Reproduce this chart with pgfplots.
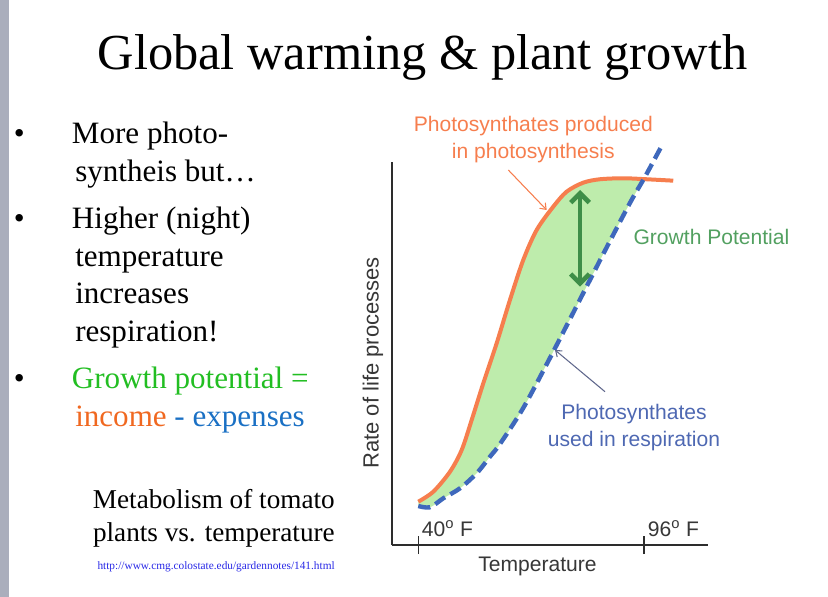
\documentclass[border=0pt]{standalone}
\usepackage{pgfplots}
\pgfplotsset{compat=1.18}
\usepackage{pgfplotstable}
\usepgfplotslibrary{fillbetween}
\usetikzlibrary{arrows.meta}
\usepackage{fontspec}
\setmainfont{Liberation Serif}
\newfontfamily\arial{Liberation Sans}
\definecolor{barcol}{RGB}{170,174,188}
\definecolor{orng}{RGB}{246,126,78}
\definecolor{bluedash}{RGB}{62,104,188}
\definecolor{fillg}{RGB}{190,236,172}
\definecolor{darkg}{RGB}{62,142,72}
\definecolor{gtext}{RGB}{82,160,96}
\definecolor{btext}{RGB}{78,104,178}
\definecolor{ptr}{RGB}{96,104,140}
\definecolor{greenbul}{RGB}{34,190,34}
\definecolor{incor}{RGB}{240,104,32}
\definecolor{expb}{RGB}{26,112,196}
\definecolor{urlb}{RGB}{40,40,230}
\definecolor{axgray}{RGB}{45,45,45}
\definecolor{lblgray}{RGB}{55,55,55}
\pagecolor{white}
\newcommand{\fs}[1]{\fontsize{#1bp}{#1bp}\selectfont}

\pgfplotstableread{
x y
40.00 11.30
43.72 13.91
47.87 19.12
50.77 24.78
53.25 32.61
56.13 42.19
59.45 52.62
62.75 63.92
66.05 74.35
69.38 82.18
73.50 88.26
76.82 92.17
80.94 94.52
85.09 95.41
90.87 95.67
96.67 95.41
103.28 95.04
}\photo

\pgfplotstableread{
x y
40.00 10.17
42.90 9.84
46.20 12.18
50.35 14.79
54.49 18.71
57.79 23.04
60.27 26.35
66.05 35.74
72.68 48.79
79.31 62.35
85.91 75.92
92.53 89.22
96.25 96.01
100.40 104.10
}\resp

\begin{document}
\begin{tikzpicture}[every node/.style={inner sep=0pt}]
\begin{scope}[x=0.75bp,y=0.75bp]
\fill[barcol] (0,0) rectangle (9,597);

% title
\node[anchor=base,font=\fs{37.8}] at (422.5,527) {Global warming \& plant growth};

% bullets
\begin{scope}[font=\fs{23.3}]
\node[anchor=base] at (19.3,453.7) {•};
\node[anchor=base] at (19.3,368.7) {•};
\node[anchor=base] at (19.3,208.7) {•};
\node[anchor=base west] at (71.7,453.7) {More photo-};
\node[anchor=base west] at (75,415.3) {syntheis but…};
\node[anchor=base west] at (71.7,368.7) {Higher (night)};
\node[anchor=base west] at (75,330.3) {temperature};
\node[anchor=base west] at (75,293.7) {increases};
\node[anchor=base west] at (75,255.3) {respiration!};
\node[anchor=base west,text=greenbul] at (71.7,208.7) {Growth potential =};
\node[anchor=base west] at (75,170.3) {\textcolor{incor}{income} \textcolor{expb}{- expenses}};
\end{scope}

\node[anchor=base east,font=\fs{20.4}] at (335,88.7) {Metabolism of tomato};
\node[anchor=base east,font=\fs{20.4}] at (335,55.3) {plants vs. temperature};
\node[anchor=base east,font=\fs{8.5},text=urlb] at (335,28) {http://www.cmg.colostate.edu/gardennotes/141.html};
\end{scope}

\begin{axis}[at={(293.775bp,39bp)}, anchor=south west, scale only axis,
  width=237.2bp, height=287.5bp,
  xmin=33.4, xmax=111.9, ymin=0, ymax=100,
  axis lines=left, axis line style={-, line width=1.5bp, axgray},
  xtick={40,96}, xticklabels={,,}, ytick=\empty,
  tick align=center, major tick length=13.5bp,
  every tick/.style={axgray, line width=1bp},
  clip=false, no marks]
\addplot[name path=O, draw=none, smooth, forget plot] table {\photo};
\addplot[name path=B, draw=none, smooth, forget plot] table {\resp};
\fill[fillg, intersection segments={of=O and B, sequence={L1 -- R1[reverse]}}] -- cycle;
\addplot[orng, line width=3bp, smooth] table {\photo};
\addplot[bluedash, line width=3.3bp, smooth, dash pattern=on 9bp off 4.5bp] table {\resp};
\end{axis}

\begin{scope}[x=0.75bp,y=0.75bp]
% green double arrow
\draw[darkg, line width=3.5bp, {Straight Barb[length=7bp,width=14bp]}-{Straight Barb[length=7bp,width=14bp]}] (580,407) -- (580,310.3);

% chart labels
\begin{scope}[font=\arial\fs{15.8}]
\node[anchor=base,text=orng] at (533.3,465.3) {Photosynthates produced};
\node[anchor=base,text=orng] at (533.3,438.7) {in photosynthesis};
\node[anchor=base west,text=gtext] at (633.3,352) {Growth Potential};
\node[anchor=base,text=btext] at (634,177.7) {Photosynthates};
\node[anchor=base,text=btext] at (634,150.3) {used in respiration};
\node[anchor=base,text=lblgray] at (537.5,25.3) {Temperature};
\node[anchor=base west,text=lblgray] at (421.7,60.3) {40\textsuperscript{o} F};
\node[anchor=base west,text=lblgray] at (647.7,60.3) {96\textsuperscript{o} F};
\node[rotate=90,text=lblgray,font=\arial\fs{16.5}] at (373,234) {Rate of life processes};
\end{scope}

\draw[orng, line width=0.8bp, -{Straight Barb[length=4bp,width=6bp]}] (508.3,427) -- (546.7,387);
\draw[ptr, line width=0.8bp, -{Straight Barb[length=4bp,width=6bp]}] (605,205.3) -- (555,247);
\end{scope}
\pgfresetboundingbox
\useasboundingbox (0,0) rectangle (621bp,447.75bp);
\end{tikzpicture}
\end{document}
